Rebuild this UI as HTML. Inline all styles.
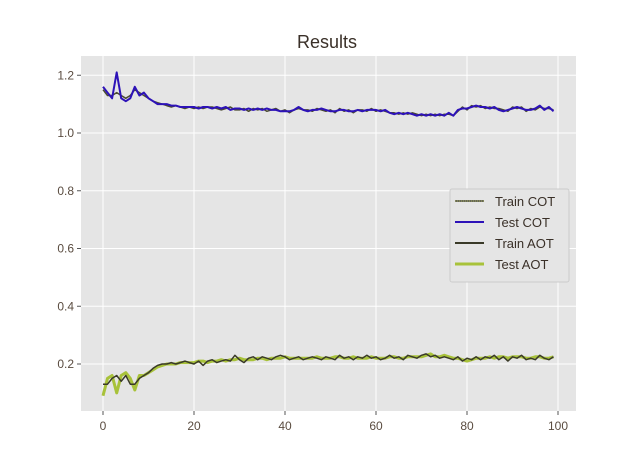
<!DOCTYPE html>
<html><head><meta charset="utf-8"><style>
html,body{margin:0;padding:0;background:#fff;}
svg{display:block;font-family:"Liberation Sans","DejaVu Sans",sans-serif;}
</style></head><body>
<svg id="chart" width="640" height="463">
<rect x="0" y="0" width="640" height="463" fill="#fff"/>
<rect x="81" y="56" width="495" height="355" fill="#e5e5e5"/>
<g id="grid"></g>
<g id="ticks"></g>
<g id="series"></g>
<text x="327" y="48" text-anchor="middle" font-size="18" fill="#3a3028">Results</text>
<g>
<rect x="450" y="189" width="119" height="93" fill="#e5e5e5" stroke="#ccc" stroke-width="1" rx="2"/>
<g><line x1="455" y1="201" x2="484" y2="201" stroke="#3d3d2a" stroke-width="1.5"/><line x1="455" y1="201" x2="484" y2="201" stroke="#b5c43a" stroke-width="0.6" stroke-dasharray="1,1"/><text x="495" y="206" font-size="13" fill="#3a3028">Train COT</text></g>
<g><line x1="455" y1="222" x2="484" y2="222" stroke="#2d12b8" stroke-width="2"/><text x="495" y="227" font-size="13" fill="#3a3028">Test COT</text></g>
<g><line x1="455" y1="243" x2="484" y2="243" stroke="#3a3a28" stroke-width="2"/><text x="495" y="248" font-size="13" fill="#3a3028">Train AOT</text></g>
<g><line x1="455" y1="264" x2="484" y2="264" stroke="#a8c23a" stroke-width="3"/><text x="495" y="269" font-size="13" fill="#3a3028">Test AOT</text></g>
</g>
</svg>
<script>
const xTicks=[0,20,40,60,80,100];
const yTicks=[0.2,0.4,0.6,0.8,1.0,1.2];
const yTickLabels=["0.2","0.4","0.6","0.8","1.0","1.2"];
const testCOT=[1.16,1.14,1.12,1.21,1.12,1.11,1.12,1.16,1.13,1.14,
1.12,1.11,1.10,1.10,1.10,1.095,1.095,1.09,1.09,1.09,
1.09,1.085,1.09,1.09,1.085,1.09,1.085,1.09,1.08,1.085,
1.085,1.08,1.085,1.08,1.085,1.08,1.085,1.08,1.08,1.075,
1.075,1.075,1.08,1.09,1.08,1.075,1.08,1.08,1.085,1.08,
1.075,1.075,1.08,1.08,1.075,1.075,1.08,1.075,1.08,1.08,
1.08,1.075,1.08,1.07,1.065,1.07,1.065,1.07,1.065,1.06,
1.065,1.06,1.065,1.06,1.065,1.06,1.07,1.06,1.08,1.085,
1.085,1.09,1.095,1.09,1.09,1.085,1.09,1.08,1.075,1.08,
1.085,1.09,1.085,1.08,1.08,1.085,1.095,1.08,1.09,1.075];
const trainCOT=[1.15,1.13,1.13,1.14,1.13,1.12,1.13,1.15,1.14,1.13,
1.12,1.11,1.105,1.10,1.095,1.09,1.095,1.09,1.085,1.09,
1.085,1.09,1.085,1.09,1.09,1.085,1.08,1.085,1.09,1.08,
1.08,1.085,1.075,1.085,1.08,1.085,1.075,1.08,1.085,1.075,
1.08,1.07,1.08,1.085,1.08,1.08,1.075,1.085,1.08,1.075,
1.08,1.07,1.085,1.075,1.08,1.07,1.08,1.08,1.075,1.085,
1.075,1.08,1.075,1.07,1.07,1.065,1.07,1.065,1.07,1.065,
1.06,1.065,1.06,1.065,1.06,1.065,1.065,1.06,1.075,1.09,
1.08,1.095,1.09,1.095,1.085,1.09,1.085,1.085,1.08,1.075,
1.09,1.085,1.09,1.075,1.085,1.08,1.09,1.085,1.085,1.08];
const testAOT=[0.09,0.15,0.16,0.10,0.16,0.17,0.15,0.11,0.16,0.16,
0.17,0.18,0.19,0.195,0.20,0.20,0.20,0.205,0.205,0.205,
0.205,0.21,0.21,0.205,0.21,0.21,0.215,0.21,0.215,0.215,
0.22,0.215,0.215,0.215,0.22,0.22,0.215,0.22,0.22,0.22,
0.225,0.22,0.22,0.22,0.22,0.22,0.22,0.225,0.22,0.22,
0.22,0.225,0.225,0.22,0.22,0.225,0.22,0.22,0.22,0.225,
0.22,0.22,0.22,0.225,0.225,0.22,0.22,0.225,0.225,0.225,
0.225,0.23,0.235,0.225,0.225,0.23,0.225,0.22,0.22,0.215,
0.21,0.215,0.22,0.22,0.22,0.225,0.22,0.225,0.225,0.22,
0.225,0.225,0.225,0.22,0.22,0.225,0.225,0.22,0.22,0.225];
const trainAOT=[0.13,0.13,0.15,0.16,0.14,0.16,0.13,0.13,0.15,0.16,
0.17,0.185,0.195,0.20,0.20,0.205,0.20,0.205,0.21,0.205,
0.20,0.21,0.195,0.21,0.215,0.205,0.21,0.215,0.21,0.23,
0.215,0.205,0.22,0.225,0.215,0.225,0.22,0.215,0.225,0.23,
0.225,0.215,0.22,0.225,0.215,0.22,0.225,0.22,0.215,0.225,
0.22,0.215,0.23,0.22,0.225,0.215,0.225,0.22,0.23,0.22,
0.225,0.215,0.22,0.23,0.22,0.225,0.215,0.23,0.225,0.22,
0.23,0.235,0.225,0.23,0.22,0.225,0.22,0.215,0.225,0.21,
0.22,0.215,0.225,0.215,0.225,0.22,0.23,0.215,0.225,0.21,
0.225,0.22,0.23,0.215,0.22,0.215,0.23,0.22,0.215,0.225];
const NS="http://www.w3.org/2000/svg";
function xs(v){return 103+v*4.55;}
function ys(v){return 133-(v-1.0)*288.75;}
const grid=document.getElementById('grid'),ticks=document.getElementById('ticks'),ser=document.getElementById('series');
function mk(tag,attrs,parent){const e=document.createElementNS(NS,tag);for(const k in attrs)e.setAttribute(k,attrs[k]);parent.appendChild(e);return e;}
xTicks.forEach(t=>{
  const l=mk('line',{x1:xs(t),x2:xs(t),y1:56,y2:411,stroke:'#fff','stroke-width':1},grid);
  
  
  mk('line',{x1:xs(t),x2:xs(t),y1:411,y2:415,stroke:'#555'},ticks);
  const tx=mk('text',{x:xs(t),y:430,'text-anchor':'middle','font-size':12,fill:'#5a4c40'},ticks);
  tx.textContent=t;
  
  
});
yTicks.forEach((t,i)=>{
  const l=mk('line',{x1:81,x2:576,y1:ys(t),y2:ys(t),stroke:'#fff','stroke-width':1},grid);
  
  
  mk('line',{x1:77,x2:81,y1:ys(t),y2:ys(t),stroke:'#555'},ticks);
  const tx=mk('text',{x:74,y:ys(t)+4,'text-anchor':'end','font-size':12,fill:'#5a4c40'},ticks);
  tx.textContent=yTickLabels[i];
  
  
});
function line(arr,color,w,name,dash){
  const d=arr.map((v,i)=>(i?'L':'M')+xs(i).toFixed(1)+','+ys(v).toFixed(1)).join('');
  const p=mk('path',{d:d,fill:'none',stroke:color,'stroke-width':w,'stroke-linejoin':'round'},ser);
  if(dash)p.setAttribute('stroke-dasharray',dash);
  
  
}
line(trainCOT,'#4a4a30',1.5,'train-cot-line');
line(testCOT,'#2d12b8',2,'test-cot-line');
line(testAOT,'#a8c23a',3,'test-aot-line');
line(trainAOT,'#3a3a28',1.5,'train-aot-line');
</script>
</body></html>
